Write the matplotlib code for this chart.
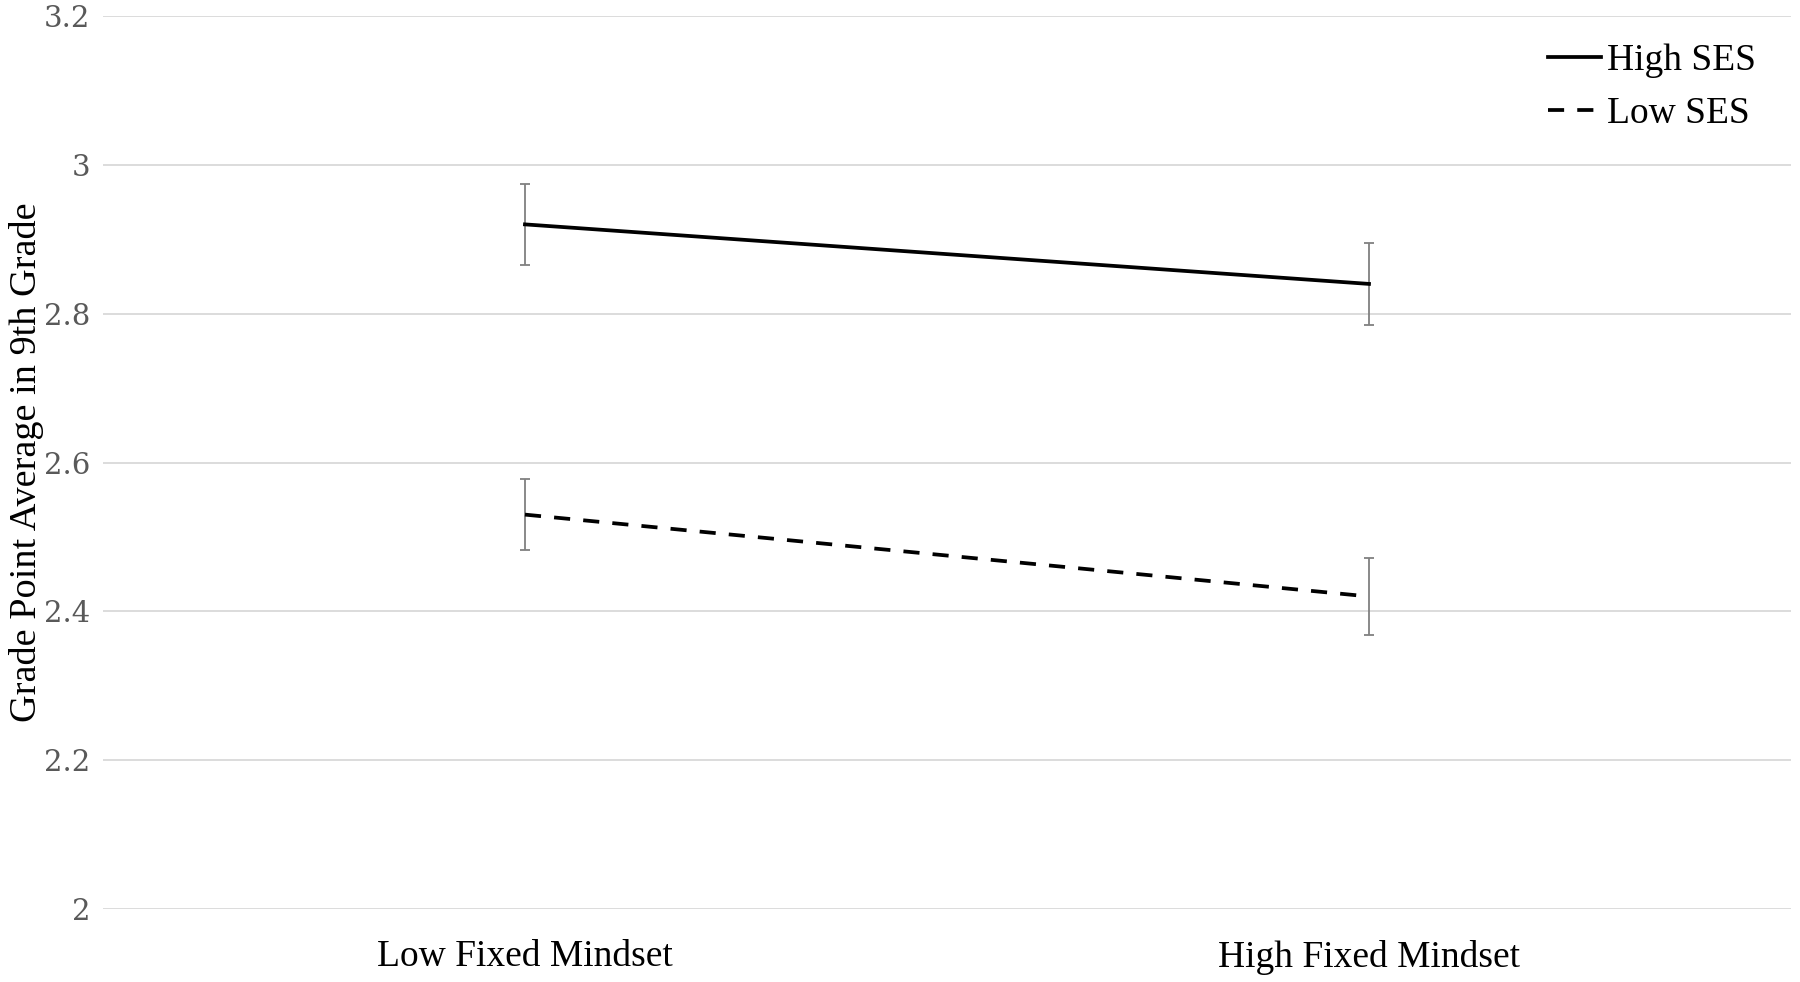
import numpy as np
import matplotlib.pyplot as plt

# Data
categories = ['Low Fixed Mindset', 'High Fixed Mindset']
high_ses = [2.92, 2.84]
high_ses_err = [0.054, 0.055]
low_ses = [2.53, 2.42]
low_ses_err = [0.048, 0.052]
y_ticks = [2, 2.2, 2.4, 2.6, 2.8, 3, 3.2]
y_tick_labels = ['2', '2.2', '2.4', '2.6', '2.8', '3', '3.2']

plt.rcParams['font.family'] = ['Liberation Serif', 'DejaVu Serif']

fig = plt.figure(figsize=(18, 9.82), dpi=100)
ax = fig.add_axes([0.0572, 0.0743, 0.9378, 0.9094])

x = np.arange(len(categories))
ax.errorbar(x, high_ses, yerr=high_ses_err, fmt='none', ecolor='#808080',
            elinewidth=1.3, capsize=3.5, capthick=1.3, zorder=2)
ax.errorbar(x, low_ses, yerr=low_ses_err, fmt='none', ecolor='#808080',
            elinewidth=1.3, capsize=3.5, capthick=1.3, zorder=2)
ax.plot(x, high_ses, color='black', linewidth=2.7, linestyle='-',
        label='High SES', zorder=3)
ax.plot(x, low_ses, color='black', linewidth=2.7, linestyle=(0, (4.3, 3.5)),
        label='Low SES', zorder=3)

ax.set_xlim(-0.5, 1.5)
ax.set_ylim(2, 3.2)
ax.set_xticks(x)
ax.set_xticklabels(categories, fontsize=27)
ax.set_yticks(y_ticks)
ax.set_yticklabels(y_tick_labels, fontsize=21, color='#595959',
                   family='DejaVu Serif')
ax.tick_params(length=0)
ax.tick_params(axis='x', pad=22)
ax.tick_params(axis='y', pad=9)
ax.grid(True, axis='y', color='#d9d9d9', linewidth=1.3)
ax.set_axisbelow(True)
for s in ax.spines.values():
    s.set_visible(False)
ax.set_ylabel('Grade Point Average in 9th Grade', fontsize=27.5)
ax.yaxis.set_label_coords(-0.035, 0.5)

ax.legend(loc='upper right', frameon=False, fontsize=27, handlelength=1.4,
          handletextpad=0.15, labelspacing=0.5, bbox_to_anchor=(0.999, 1.007))

plt.savefig('out.png', dpi=100)
